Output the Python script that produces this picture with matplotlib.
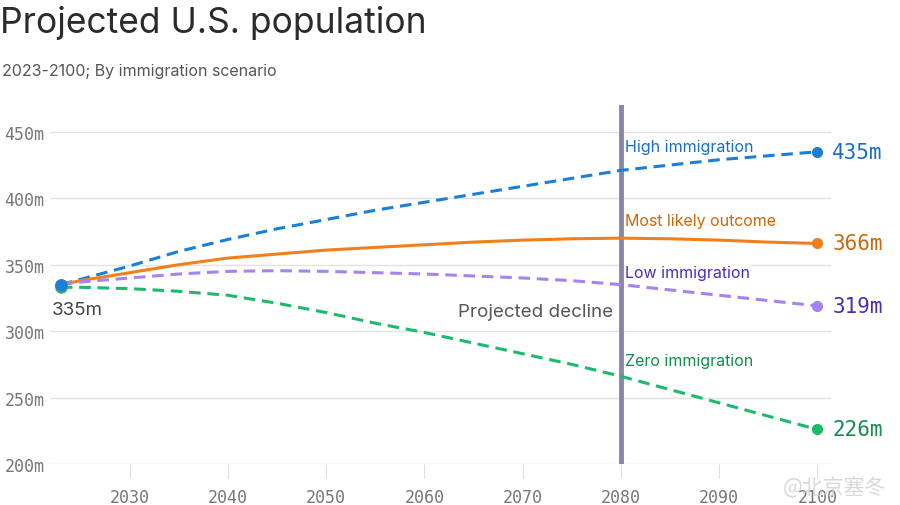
import matplotlib.pyplot as plt

years = [2023, 2025, 2030, 2035, 2040, 2045, 2050, 2055, 2060, 2065, 2070, 2075, 2080, 2085, 2090, 2095, 2100]
high = [335, 339, 349, 360, 369, 377, 384, 391, 397, 403, 409, 415, 421, 425, 429, 432, 435]
likely = [335, 338, 344, 350, 355, 358, 361, 363, 365, 367, 368.5, 369.5, 370, 369.5, 368.5, 367, 366]
low = [335, 337, 340, 343, 345, 345.5, 345, 344, 343, 341.5, 340, 338, 335, 331, 327, 323, 319]
zero = [333, 333, 332, 330, 327, 321, 314, 306, 299, 291, 283, 275, 266, 256, 246, 236, 226]

names = ["High immigration", "Most likely outcome", "Low immigration", "Zero immigration"]
label_y = [439, 383, 344, 278]
end_labels = ["435m", "366m", "319m", "226m"]
yticks = [200, 250, 300, 350, 400, 450]
xticks = [2030, 2040, 2050, 2060, 2070, 2080, 2090, 2100]

line_colors = ["#1a7fd6", "#f2801a", "#a683f0", "#1dba6b"]
text_colors = ["#1a6fc4", "#c8680e", "#4b2bb5", "#138c4c"]
styles = ["--", "-", "--", "--"]

plt.rcParams['font.family'] = ['Inter', 'DejaVu Sans']
mono = 'DejaVu Sans Mono'

fig = plt.figure(figsize=(9, 5.06), dpi=100)
ax = fig.add_axes([0.0556, 0.081, 0.868, 0.709])

for y in yticks:
    ax.axhline(y, color="#e2e2e2", lw=1, zorder=0)

ax.axvline(2080, color="#8a86a8", lw=3.5, zorder=1)

series = [high, likely, low, zero]
for vals, lc, tc, ls, name, ly, el in zip(series, line_colors, text_colors, styles, names, label_y, end_labels):
    if ls == "--":
        ax.plot(years, vals, color=lc, lw=2.2, ls=ls, dashes=(3.8, 2.2), zorder=3)
    else:
        ax.plot(years, vals, color=lc, lw=2.2, zorder=3)
    ax.plot(years[-1], vals[-1], "o", color=lc, ms=7, zorder=4)
    ax.text(2080.4, ly, name, color=tc, fontsize=11.5, va="center", ha="left", zorder=5,
            bbox=dict(facecolor="white", edgecolor="none", pad=0.5))
    ax.text(2101.5, vals[-1], el, color=tc, fontsize=15, va="center", ha="left",
            family=mono, clip_on=False)

for vals, lc in zip(series[::-1], line_colors[::-1]):
    ax.plot(years[0], vals[0], "o", color=lc, ms=8, zorder=4)

ax.text(2022.1, 316, "335m", color="#444444", fontsize=13.5, va="center", ha="left")
ax.text(2079.2, 315, "Projected decline", color="#555555", fontsize=13.5, va="center", ha="right",
        bbox=dict(facecolor="white", edgecolor="none", pad=0.5), zorder=2)

ax.set_xlim(2021.9, 2101.4)
ax.set_ylim(200, 470)
ax.set_yticks(yticks)
ax.set_yticklabels([f"{v}m" for v in yticks], family=mono, color="#777777", fontsize=12)
ax.set_xticks(xticks)
ax.set_xticklabels([str(v) for v in xticks], family=mono, color="#777777", fontsize=12)
ax.tick_params(axis="y", length=0, pad=4)
ax.tick_params(axis="x", length=10, color="#dddddd", pad=7)
for s in ax.spines.values():
    s.set_visible(False)

fig.text(0.0, 0.955, "Projected U.S. population", fontsize=25.5, color="#2b2b2b", va="center", ha="left")
fig.text(0.002, 0.858, "2023-2100; By immigration scenario", fontsize=11.5, color="#555555",
         va="center", ha="left")
fig.text(0.985, 0.035, "@北京塞冬", fontsize=15, color="#cfcfcf", ha="right", va="center",
         family=['Noto Sans CJK SC', 'DejaVu Sans'], alpha=0.8)

fig.savefig("out.png", dpi=100)
